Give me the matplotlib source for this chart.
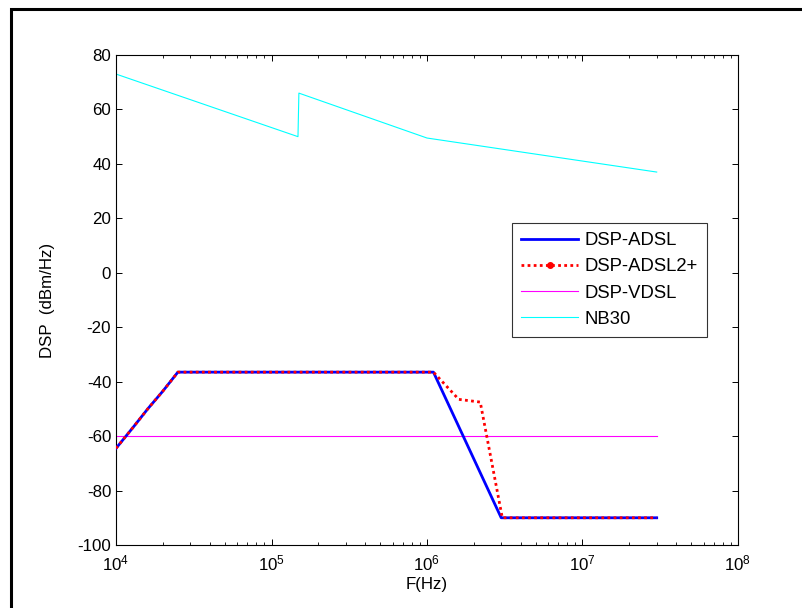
import matplotlib
matplotlib.use("Agg")
import matplotlib.pyplot as plt
from matplotlib.lines import Line2D
from matplotlib.patches import Rectangle
from matplotlib.ticker import LogLocator, NullFormatter

plt.rcParams['font.family'] = ['Liberation Sans', 'DejaVu Sans']
plt.rcParams['axes.unicode_minus'] = False

# Data
adsl_f = [1e4, 1.3e4, 1.6e4, 2.0e4, 2.5e4, 1.1e6, 3.0e6, 3.0e7]
adsl_p = [-64.5, -56.5, -50.0, -43.5, -36.5, -36.5, -90.0, -90.0]

adsl2_f = [1e4, 1.3e4, 1.6e4, 2.0e4, 2.5e4, 1.1e6, 1.6e6, 2.2e6, 3.05e6, 3.0e7]
adsl2_p = [-64.5, -56.5, -50.0, -43.5, -36.5, -36.5, -46.5, -47.5, -90.0, -90.0]

vdsl_f = [1e4, 3.0e7]
vdsl_p = [-60.0, -60.0]

nb30_f = [1e4, 1.48e5, 1.5e5, 1.0e6, 3.0e7]
nb30_p = [73.0, 50.0, 66.0, 49.5, 37.0]

labels = ['DSP-ADSL', 'DSP-ADSL2+', 'DSP-VDSL', 'NB30']
yticks = [-100, -80, -60, -40, -20, 0, 20, 40, 60, 80]

FS = 12.2
LFS = 13.3

fig = plt.figure(figsize=(8.03, 6.08), dpi=100)
ax = fig.add_axes([116/803, 1-545/608, (738-116)/803, (545-55)/608])

ax.plot(adsl_f, adsl_p, color=(0, 0, 1), lw=2.0, zorder=3)
ax.plot(adsl2_f, adsl2_p, color=(1, 0, 0), lw=2.0, ls=(0, (1, 1.2)), zorder=4)
ax.plot(vdsl_f, vdsl_p, color=(1, 0, 1), lw=0.8)
ax.plot(nb30_f, nb30_p, color=(0, 1, 1), lw=0.8)

ax.set_xscale('log')
ax.set_xlim(1e4, 1e8)
ax.set_ylim(-100, 80)
ax.set_yticks(yticks)
ax.xaxis.set_major_locator(LogLocator(base=10, numticks=10))
ax.xaxis.set_minor_locator(LogLocator(base=10, subs=range(2, 10), numticks=50))
ax.xaxis.set_minor_formatter(NullFormatter())
ax.tick_params(which='both', direction='in', top=True, right=True, labelsize=FS)
ax.tick_params(which='major', length=4, width=0.7)
ax.tick_params(which='minor', length=2.5, width=0.6)
ax.tick_params(axis='x', pad=6)
for s in ax.spines.values():
    s.set_linewidth(0.8)

ax.set_xlabel('F(Hz)', fontsize=FS, labelpad=3)
ax.set_ylabel('DSP  (dBm/Hz)', fontsize=FS, labelpad=16)

handles = [
    Line2D([], [], color=(0, 0, 1), lw=2.0),
    Line2D([0, 0.5, 1], [0, 0, 0], color=(1, 0, 0), lw=2.0, ls=(0, (1, 1.2)),
           marker='.', markersize=8, markevery=[1]),
    Line2D([], [], color=(1, 0, 1), lw=0.8),
    Line2D([], [], color=(0, 1, 1), lw=0.8),
]
leg = ax.legend(handles, labels, loc='upper left', bbox_to_anchor=((512-116)/622, 1-(223-55)/490),
                fontsize=LFS, frameon=True, fancybox=False, edgecolor='black',
                borderpad=0.5, borderaxespad=0, handlelength=3.1, labelspacing=0.5,
                handletextpad=0.35)
leg.get_frame().set_linewidth(0.8)

fig.patches.append(Rectangle((11/803, -0.1), 1.2, 1 - 9/608 + 0.1, transform=fig.transFigure,
                             fill=False, edgecolor='black', lw=2.2))

fig.savefig('out.png', dpi=100)
